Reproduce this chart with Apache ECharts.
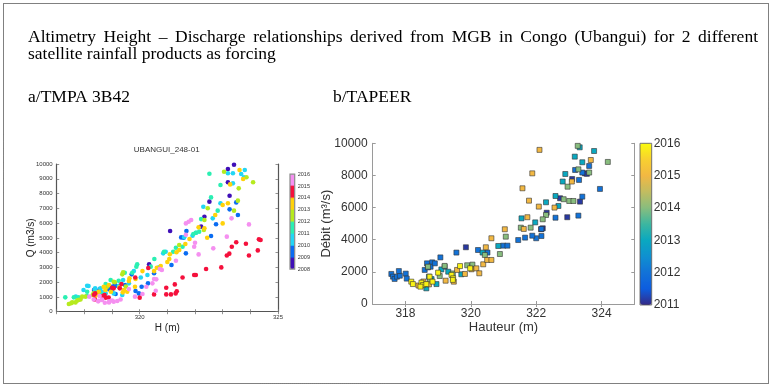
<!DOCTYPE html>
<html><head><meta charset="utf-8">
<script src="https://cdn.jsdelivr.net/npm/echarts@6/dist/echarts.min.js"></script>
<style>html,body{margin:0;padding:0;background:#fff}#c{width:773px;height:388px}</style>
</head><body><div id="c"></div>
<script>
// ---------- texts ----------
const headingLine1 = 'Altimetry Height \u2013 Discharge relationships derived from MGB in Congo (Ubangui) for 2 different';
const headingLine2 = 'satellite rainfall products as forcing';
const panelA = 'a/TMPA 3B42';
const panelB = 'b/TAPEER';
const leftTitle = 'UBANGUI_248-01';
const leftXName = 'H (m)';
const leftYName = 'Q (m3/s)';
const rightXName = 'Hauteur (m)';
const rightYName = 'D\u00e9bit (m\u00b3/s)';

// ---------- left panel (TMPA 3B42): [H, Q] per colour band ----------
const tmpaYears = [2008.5, 2009.5, 2010.5, 2011.5, 2012.5, 2013.5, 2014.5, 2015.5];
const tmpaBandColors = ['#3f0fb7', '#0a6cf2', '#22d6f5', '#2aefb2', '#b6ea1e', '#ffd20a', '#f5103c', '#f590f0'];
const tmpa2008 = [[323.41,9950],[323.19,9660],[323.19,8760],[323.25,7850],[322.52,7450],[322.34,6430],[322.22,5760],[321.1,5460],[320.34,3210],[318.35,1470]];
const tmpa2009 = [[323.49,7400],[323.25,6930],[323.55,6550],[322.76,5920],[322.58,5130],[321.69,5460],[321.59,5010],[321.5,5030],[321.67,3950],[321.15,3160],[320.52,2600],[320.3,1920],[320.07,1690],[319.97,1240],[319.85,1400],[319.71,2530],[319.47,1810],[319.13,1200],[319.1,1850],[319.0,1690],[318.88,1520],[318.55,1520],[318.58,1240],[319.12,1740]];
const tmpa2010 = [[323.8,9590],[323.37,9370],[323.19,9370],[323.67,9320],[323.77,9100],[323.37,8690],[322.92,7340],[322.3,7110],[322.64,6320],[322.04,5350],[321.61,5040],[321.91,5150],[320.94,4060],[320.85,3950],[320.7,3000],[320.28,2480],[320.04,2320],[319.79,2750],[319.61,1920],[319.4,2140],[319.25,1760],[319.06,1240],[319.37,1130],[319.0,1400],[318.77,1240],[318.64,1350],[318.58,1580],[318.39,1580],[318.37,1510],[318.15,1740],[317.97,1470],[317.69,1020],[318.1,1760]];
const tmpa2011 = [[322.52,9340],[322.92,8580],[322.58,7740],[322.82,6840],[322.22,6270],[322.15,5420],[322.03,5350],[321.94,5260],[321.55,4400],[321.31,4330],[321.21,4060],[320.88,4060],[320.53,3570],[320.4,3050],[319.91,3210],[319.88,3050],[319.73,2640],[319.46,2640],[319.24,2100],[318.77,1870],[318.1,1350],[318.09,1060],[317.79,975],[317.62,970],[317.31,970],[318.95,2150],[318.6,1200],[318.4,1300]];
const tmpa2012 = [[324.1,8760],[323.86,9100],[323.58,8350],[323.55,7520],[323.41,6840],[323.05,9480],[322.46,7000],[322.34,6210],[322.32,5530],[321.43,4520],[319.37,2530],[319.4,2660],[319.06,2030],[319.1,1990],[318.82,1690],[318.77,1650],[318.33,1240],[318.3,1130],[318.04,1020],[317.92,1020],[317.86,830],[317.79,790],[317.74,750],[317.68,630],[317.56,630],[317.52,570],[317.44,520],[319.5,1700]];
const tmpa2013 = [[323.61,9590],[323.74,8980],[323.27,8620],[323.19,7340],[323.0,7220],[323.0,5980],[322.73,6550],[322.44,5010],[322.34,5650],[322.13,5710],[321.8,4920],[321.65,4580],[321.43,4180],[321.33,4020],[321.09,3890],[321.07,3570],[321.0,3360],[320.76,3090],[320.62,2980],[320.52,2750],[320.1,2750],[319.85,2210],[319.63,2260],[319.83,1690],[319.61,2080],[319.55,1350],[319.43,1470],[319.39,1310],[319.27,1650],[318.96,1350],[318.89,1810],[318.76,1470],[318.7,1690],[318.52,1350],[318.46,1170],[318.39,1060]];
const tmpa2014 = [[324.27,4150],[324.31,4900],[324.37,4850],[323.95,3800],[323.84,4600],[323.49,4700],[323.33,4400],[323.24,3930],[323.15,3800],[322.95,3000],[322.4,2890],[322.03,2480],[321.97,2480],[321.55,2320],[321.34,1380],[321.3,1240],[321.27,1850],[321.13,1170],[320.96,1170],[320.96,1620],[320.52,1170],[320.31,2960],[320.0,950],[319.84,2320],[319.34,1870],[319.28,1580],[319.06,1580],[319.0,1620],[318.88,960],[318.77,950],[318.73,1130],[318.67,1060],[318.39,1240],[318.38,830],[318.35,1150]];
const tmpa2015 = [[323.95,5910],[323.15,5080],[323.32,6320],[322.66,4290],[322.13,3880],[321.97,4400],[322.0,4670],[321.67,5980],[321.77,6090],[321.86,6210],[321.67,5210],[321.31,3450],[320.8,2820],[320.73,2890],[320.6,2190],[320.52,2210],[320.58,1420],[320.46,1920],[320.24,1690],[320.1,1200],[319.83,1020],[319.61,1530],[319.31,830],[319.19,720],[319.06,680],[318.89,630],[318.74,610],[318.64,830],[318.5,700],[318.34,830],[318.18,1020],[318.55,1060],[318.51,745],[318.63,790],[318.9,700],[319.0,760]];
const tmpaGroups = [tmpa2008, tmpa2009, tmpa2010, tmpa2011, tmpa2012, tmpa2013, tmpa2014, tmpa2015];

// ---------- right panel (TAPEER): [H, Q] per year colour ----------
const tapeerYears = [2011.15, 2012.0, 2013.0, 2014.0, 2015.0, 2015.9];
const parulaStops = ['#352a87','#0d5ddf','#1272d8','#0f90d0','#0aa8c0','#3cb6a0','#88bd7e','#c2bc60','#f2b843','#f8d030','#f9fb0e'];
const tapeer2011 = [[319.85,3530],[323.1,7780],[323.49,8130],[323.55,8100],[322.73,6580],[322.32,5680],[322.95,5400],[323.34,6370],[322.2,4710],[322.15,4650]];
const tapeer2012 = [[317.57,1870],[317.62,1700],[317.67,1560],[317.74,1700],[317.83,1760],[317.8,2050],[318.01,1890],[318.04,1580],[318.59,2120],[318.66,2530],[318.69,2280],[318.82,2590],[318.77,2320],[318.9,2530],[319.07,2900],[319.56,3200],[319.2,2320],[320.22,3360],[320.51,3200],[320.99,3630],[321.12,3630],[323.19,8340],[323.31,7720],[323.41,8180],[323.62,8590],[323.41,6680],[323.29,5500],[323.95,7160],[322.59,5370],[322.16,4670],[322.16,4230],[322.0,4090],[321.88,4250],[321.66,4130],[321.45,3980]];
const tapeer2013 = [[318.64,975],[318.72,1700],[318.95,1240],[319.31,2010],[319.71,1850],[320.02,2280],[320.36,3200],[320.84,3610],[318.8,1550],[319.1,2150],[323.33,9750],[323.18,9170],[323.41,8820],[323.77,9520],[322.89,8090],[322.81,7620],[322.59,6720],[322.3,6330],[322.68,6100],[321.97,5080],[321.55,5330]];
const tapeer2014 = [[318.69,2320],[319.05,1740],[319.2,2370],[319.89,2410],[320.05,2450],[320.43,3050],[320.89,3110],[321.07,4190],[318.75,1450],[319.45,1900],[323.27,9840],[323.29,8380],[322.96,7300],[322.84,6520],[323.01,6410],[323.14,6410],[323.62,8180],[324.19,8840],[322.3,5540],[322.2,5270],[321.83,4750],[321.53,4750]];
const tapeer2015 = [[318.72,1220],[319.23,1450],[319.48,1390],[319.58,2120],[319.82,1870],[320.02,2160],[320.17,2220],[320.26,1910],[320.38,2470],[320.46,3530],[320.5,2740],[320.63,4090],[320.63,2740],[321.04,4650],[318.4,1150],[318.55,1400],[322.1,9590],[321.88,8130],[321.58,7200],[321.78,6430],[322.08,6060],[322.56,6000],[321.62,4670],[321.73,5400],[323.09,7620],[323.67,8960]];
const tapeer2016 = [[318.18,1390],[318.23,1240],[318.49,1330],[318.54,1180],[318.64,1240],[318.74,1700],[318.83,1390],[318.46,1080],[319.41,1810],[319.46,1600],[319.0,1950],[319.45,1500],[319.67,2360],[319.98,2220]];
const tapeerGroups = [tapeer2011, tapeer2012, tapeer2013, tapeer2014, tapeer2015, tapeer2016];

// ---------- axis ticks ----------
const leftXLabels = [320, 325];
const rightXTicks = [318, 320, 322, 324];

// ---------- build ----------
const leftData = tmpaGroups.flatMap((g, i) => g.map(p => [p[0], p[1], tmpaYears[i]]));
const rightData = tapeerGroups.flatMap((g, i) => g.map(p => [p[0], p[1], tapeerYears[i]]));
const leftStops = tmpaBandColors.flatMap(c => Array(12).fill(c));
const plain = v => String(v);

const serif = '"Liberation Serif", "Times New Roman", serif';
const sans = '"Liberation Sans", Arial, sans-serif';
const ctx = document.createElement('canvas').getContext('2d');
function measure(t, font) { ctx.font = font; return ctx.measureText(t).width; }
const textLeft = 28, textRight = 758;
const fs = 100 * (276 - textLeft) / measure(headingLine2, '100px ' + serif);
const hFont = fs.toFixed(2) + 'px ' + serif;
const words = headingLine1.split(' ');
const wW = words.map(w => measure(w, hFont));
const gap = (textRight - textLeft - wW.reduce((a, b) => a + b, 0)) / (words.length - 1);
const graphics = [];
let cx = textLeft;
words.forEach((w, i) => {
  graphics.push({ type: 'text', x: cx, y: 37, style: { text: w, font: hFont, fill: '#000', textVerticalAlign: 'middle' } });
  cx += wW[i] + gap;
});
graphics.push({ type: 'text', x: textLeft, y: 54.5, style: { text: headingLine2, font: hFont, fill: '#000', textVerticalAlign: 'middle' } });
graphics.push({ type: 'text', x: textLeft, y: 97, style: { text: panelA, font: hFont, fill: '#000', textVerticalAlign: 'middle' } });
graphics.push({ type: 'text', x: 333, y: 97, style: { text: panelB, font: hFont, fill: '#000', textVerticalAlign: 'middle' } });
graphics.push({ type: 'text', x: 166.7, y: 150, style: { text: leftTitle, font: '8px ' + sans, fill: '#333', textAlign: 'center', textVerticalAlign: 'middle' } });
graphics.push({ type: 'rect', shape: { x: 3.5, y: 3.5, width: 765, height: 380 }, style: { fill: null, stroke: '#000', lineWidth: 1, lineDash: [1, 1] } });

const LG = { left: 56.7, top: 164, width: 221.3, height: 147.7 };
const RG = { left: 372.7, top: 143.3, width: 261.6, height: 160.7 };
const LCB = { left: 290, top: 174.2, width: 4.7, height: 95 };
const RCB = { left: 640, top: 143.3, width: 11.7, height: 161.7 };

const lLine = { show: true, lineStyle: { color: '#555', width: 1.2 } };
const lTick = { show: true, inside: true, length: 2.5, lineStyle: { color: '#777', width: 0.8 } };
const rLine = { show: true, lineStyle: { color: '#9a9a9a', width: 1 } };
const rTick = { show: true, inside: true, length: 3, lineStyle: { color: '#9a9a9a', width: 1 }, customValues: rightXTicks };
const rTickY = { show: true, inside: true, length: 3, lineStyle: { color: '#9a9a9a', width: 1 } };

const option = {
  animation: false,
  backgroundColor: '#fff',
  graphic: graphics,
  grid: [
    Object.assign({ show: false }, LG),
    Object.assign({ show: false }, RG),
    Object.assign({ show: true, z: 6, borderColor: '#8a8a8a', borderWidth: 1.2, backgroundColor: 'transparent' }, LCB),
    Object.assign({ show: true, z: 6, borderColor: '#555', borderWidth: 0.8, backgroundColor: 'transparent' }, RCB)
  ],
  xAxis: [
    { gridIndex: 0, type: 'value', min: 317, max: 325, interval: 1, position: 'bottom', axisLine: lLine, axisTick: lTick, splitLine: { show: false },
      axisLabel: { fontSize: 6, color: '#333', fontFamily: sans, margin: 3, formatter: v => leftXLabels.includes(v) ? String(v) : '' },
      name: leftXName, nameLocation: 'middle', nameGap: 12, nameMoveOverlap: false, nameTextStyle: { fontSize: 10, color: '#222', fontFamily: sans, verticalAlign: 'top' } },
    { gridIndex: 0, type: 'value', min: 317, max: 325, interval: 1, position: 'top', axisLine: lLine, axisTick: lTick, axisLabel: { show: false }, splitLine: { show: false } },
    { gridIndex: 1, type: 'value', min: 317, max: 325, interval: 1, position: 'bottom', axisLine: rLine, axisTick: rTick, splitLine: { show: false },
      axisLabel: { fontSize: 12, color: '#333', fontFamily: sans, margin: 4, customValues: rightXTicks, formatter: plain },
      name: rightXName, nameLocation: 'middle', nameGap: 17, nameTextStyle: { fontSize: 13, color: '#333', fontFamily: sans, verticalAlign: 'top' } },
    { gridIndex: 1, type: 'value', min: 317, max: 325, interval: 1, position: 'top', axisLine: rLine, axisTick: rTick, axisLabel: { show: false }, splitLine: { show: false } },
    { gridIndex: 2, type: 'value', min: 0, max: 1, show: false },
    { gridIndex: 3, type: 'value', min: 0, max: 1, show: false }
  ],
  yAxis: [
    { gridIndex: 0, type: 'value', min: 0, max: 10000, interval: 1000, position: 'left', axisLine: lLine, axisTick: lTick, splitLine: { show: false },
      axisLabel: { fontSize: 6, color: '#333', fontFamily: sans, margin: 4, formatter: plain },
      name: leftYName, nameLocation: 'middle', nameGap: 20, nameMoveOverlap: false, nameTextStyle: { fontSize: 10, color: '#222', fontFamily: sans } },
    { gridIndex: 0, type: 'value', min: 0, max: 10000, interval: 1000, position: 'right', axisLine: lLine, axisTick: lTick, axisLabel: { show: false }, splitLine: { show: false } },
    { gridIndex: 1, type: 'value', min: 0, max: 10000, interval: 2000, position: 'left', axisLine: rLine, axisTick: rTickY, splitLine: { show: false },
      axisLabel: { fontSize: 12, color: '#333', fontFamily: sans, margin: 5, formatter: plain },
      name: rightYName, nameLocation: 'middle', nameGap: 40, nameMoveOverlap: false, nameTextStyle: { fontSize: 13, color: '#333', fontFamily: sans } },
    { gridIndex: 1, type: 'value', min: 0, max: 10000, interval: 2000, position: 'right', axisLine: rLine, axisTick: rTickY, axisLabel: { show: false }, splitLine: { show: false } },
    { gridIndex: 2, type: 'value', min: 2008, max: 2016, interval: 1, position: 'right', axisLine: { show: false }, axisTick: { show: false }, splitLine: { show: false },
      axisLabel: { fontSize: 5.5, color: '#333', fontFamily: sans, margin: 3, formatter: plain } },
    { gridIndex: 3, type: 'value', min: 2011, max: 2016, interval: 1, position: 'right', axisLine: { show: false }, axisTick: { show: false }, splitLine: { show: false },
      axisLabel: { fontSize: 12, color: '#333', fontFamily: sans, margin: 2, formatter: plain } }
  ],
  visualMap: [
    { type: 'continuous', seriesIndex: 0, dimension: 2, min: 2008, max: 2016, calculable: false, hoverLink: false,
      inRange: { color: leftStops }, itemWidth: LCB.width, itemHeight: LCB.height, left: LCB.left, top: LCB.top, padding: 0, text: null, borderWidth: 0 },
    { type: 'continuous', seriesIndex: 1, dimension: 2, min: 2011, max: 2016, calculable: false, hoverLink: false,
      inRange: { color: parulaStops }, itemWidth: RCB.width, itemHeight: RCB.height, left: RCB.left, top: RCB.top, padding: 0, text: null, borderWidth: 0 }
  ],
  series: [
    { type: 'scatter', xAxisIndex: 0, yAxisIndex: 0, data: leftData, symbol: 'circle', symbolSize: 4.6, itemStyle: { opacity: 1 } },
    { type: 'scatter', xAxisIndex: 2, yAxisIndex: 2, data: rightData, symbol: 'rect', symbolSize: 5, itemStyle: { opacity: 1, borderColor: '#333', borderWidth: 0.6 } }
  ]
};
const chart = echarts.init(document.getElementById('c'), null, { renderer: 'canvas' });
chart.setOption(option);
</script>
</body></html>
